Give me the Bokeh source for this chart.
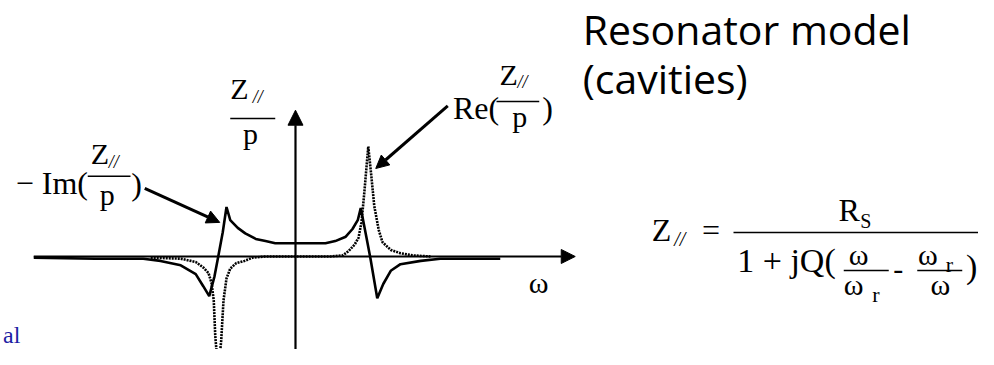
from bokeh.plotting import figure
from bokeh.models import Range1d, Arrow, NormalHead
from bokeh.core.properties import value
from bokeh.embed import file_html
from bokeh.resources import INLINE

# ---- data (omega / omega_r, normalised Z/p) ----
im_w = [-3.49, -2.67, -2.03, -1.80, -1.53, -1.33, -1.23, -1.15, -1.08, -1.03, -0.97, -0.92,
        -0.87, -0.77, -0.67, -0.53, -0.40, -0.27, 0.40, 0.53, 0.67, 0.76, 0.83, 0.87,
        0.95, 1.00, 1.09, 1.17, 1.27, 1.40, 1.67, 1.93, 2.73]
im_z = [-0.01, -0.02, -0.02, -0.04, -0.08, -0.16, -0.27, -0.36, -0.18, 0.00, 0.22, 0.45,
        0.33, 0.26, 0.21, 0.16, 0.14, 0.12, 0.12, 0.14, 0.18, 0.25, 0.33, 0.44,
        0.16, -0.02, -0.38, -0.25, -0.13, -0.07, -0.04, -0.02, -0.02]

re_w = [-1.93, -1.53, -1.33, -1.23, -1.16, -1.12, -1.09, -1.07, -1.03, -0.99, -0.96, -0.92,
        -0.87, -0.79, -0.68, -0.57, -0.40, 0.47, 0.63, 0.71, 0.79, 0.84, 0.88, 0.92,
        0.97, 1.01, 1.05, 1.11, 1.16, 1.27, 1.40, 1.56, 1.80]
re_z = [-0.01, -0.02, -0.05, -0.10, -0.15, -0.24, -0.40, -0.72, -1.05, -0.76, -0.40, -0.20,
        -0.11, -0.06, -0.04, -0.01, 0.00, 0.00, 0.01, 0.05, 0.11, 0.17, 0.31, 0.60,
        1.00, 0.74, 0.46, 0.24, 0.13, 0.06, 0.03, 0.01, 0.00]

SERIF = "Liberation Serif"
PX_Y = 110.0          # pixels per vertical data unit
BASE_FIX = 0.38       # empirical baseline correction (fraction of font size)

p = figure(width=978, height=349, output_backend="svg", toolbar_location=None,
           x_range=Range1d(-3.9333, 9.1067), y_range=Range1d(-0.8455, 2.3273),
           min_border=0, x_axis_location=None, y_axis_location=None)
p.grid.visible = False
p.outline_line_color = None
p.background_fill_color = "white"

# axes drawn as arrows
p.add_layout(Arrow(x_start=-3.49, y_start=0, x_end=3.73, y_end=0, line_width=2.2,
                   end=NormalHead(size=14, fill_color="black", line_color="black")))
p.add_layout(Arrow(x_start=0, y_start=-1.2, x_end=0, y_end=1.33, line_width=2.2,
                   end=NormalHead(size=15, fill_color="black", line_color="black")))

# curves
p.line(re_w, re_z, line_color="black", line_width=2.6, line_dash="2 1")
p.line(im_w, im_z, line_color="black", line_width=2.6)

# annotation arrows
p.add_layout(Arrow(x_start=-2.01, y_start=0.62, x_end=-1.01, y_end=0.31, line_width=3,
                   end=NormalHead(size=13, fill_color="black", line_color="black")))
p.add_layout(Arrow(x_start=2.03, y_start=1.37, x_end=1.07, y_end=0.80, line_width=3,
                   end=NormalHead(size=13, fill_color="black", line_color="black")))


def txt(x, y, s, size, font=SERIF, style="normal", align="left", color="black"):
    yy = y + BASE_FIX * size / PX_Y
    p.text(x=[x], y=[yy], text=[s], text_font=value(font), text_font_size=f"{size}px",
           text_font_style=style, text_align=align, text_baseline="alphabetic",
           text_color=color)


def bar(x0, x1, y, w=1.5):
    p.segment(x0=[x0], y0=[y], x1=[x1], y1=[y], line_color="black", line_width=w)


# vertical axis label Z///p
txt(-0.87, 1.42, "Z", 30)
txt(-0.57, 1.39, "//", 18, style="italic")
bar(-0.87, -0.27, 1.255)
txt(-0.60, 1.01, "p", 30, align="center")

# -Im(Z/p)
txt(-3.73, 0.56, "\u2212 Im(", 32)
txt(-2.73, 0.83, "Z", 30)
txt(-2.49, 0.80, "//", 18, style="italic")
bar(-2.77, -2.20, 0.73)
txt(-2.51, 0.46, "p", 30, align="center")
txt(-2.19, 0.55, ")", 32)

# Re(Z/p)
txt(2.10, 1.24, "Re(", 32)
txt(2.72, 1.55, "Z", 30)
txt(2.96, 1.52, "//", 18, style="italic")
bar(2.68, 3.25, 1.41)
txt(2.99, 1.17, "p", 30, align="center")
txt(3.29, 1.24, ")", 32)

# omega
txt(3.11, -0.34, "\u03c9", 30)

# title
txt(3.83, 1.93, "Resonator model", 41, font="Open Sans")
txt(3.83, 1.48, "(cavities)", 41, font="Open Sans")

# formula
txt(4.75, 0.13, "Z", 32)
txt(5.05, 0.09, "//", 20, style="italic")
txt(5.42, 0.13, "=", 32)
bar(5.84, 9.13, 0.218)
txt(7.24, 0.31, "R", 32)
txt(7.53, 0.25, "S", 20)
txt(5.89, -0.155, "1 + jQ(", 34)
txt(7.51, -0.09, "\u03c9", 30, align="center")
bar(7.31, 7.91, -0.127)
txt(7.31, -0.355, "\u03c9", 30)
txt(7.69, -0.42, "r", 22)
txt(7.97, -0.22, "-", 30)
txt(8.30, -0.09, "\u03c9", 30)
txt(8.67, -0.145, "r", 22)
bar(8.29, 8.89, -0.127)
txt(8.60, -0.355, "\u03c9", 30, align="center")
txt(8.94, -0.21, ")", 34)

# blue text fragment at bottom-left
txt(-3.90, -0.80, "al", 24, color="#1c1ca4")

open("out.html", "w").write(file_html(p, INLINE))
